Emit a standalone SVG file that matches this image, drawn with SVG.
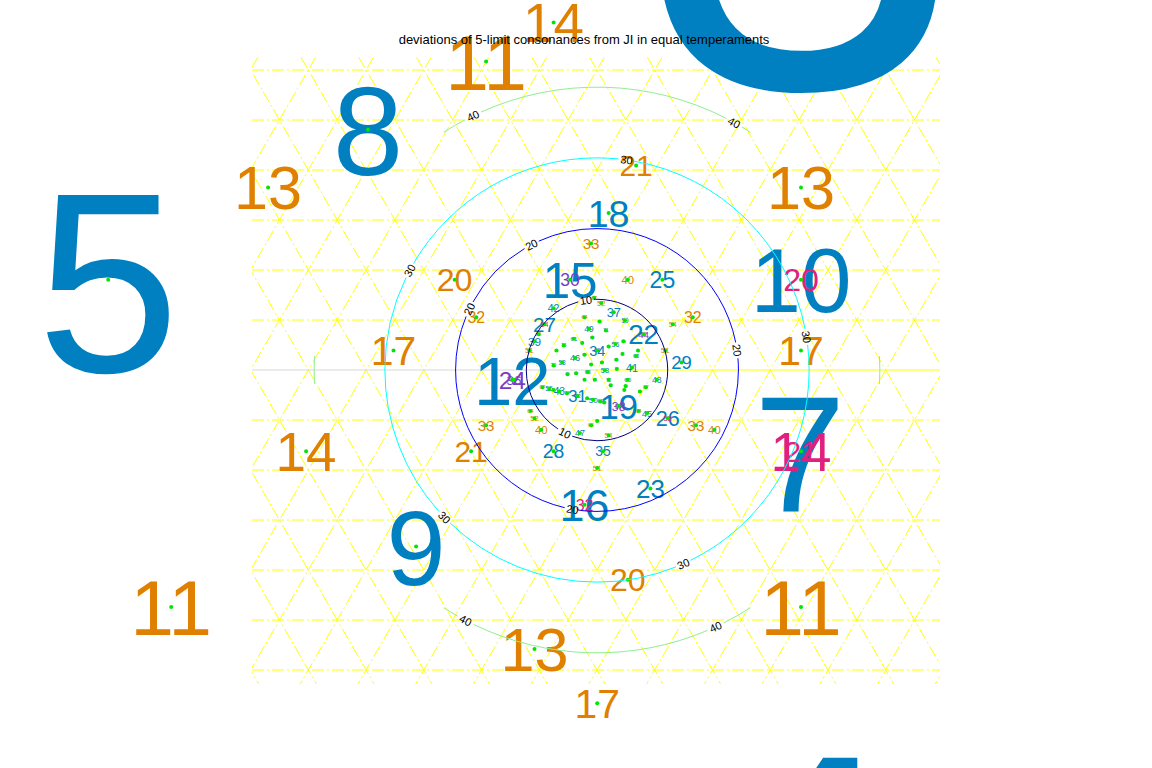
<svg xmlns="http://www.w3.org/2000/svg" width="1152" height="768" viewBox="0 0 1152 768">
<style>
text{font-family:"Liberation Sans",Arial,sans-serif;text-anchor:middle}
.b{fill:#0080c0}.o{fill:#e08000}.p{fill:#7a3cc4}.k{fill:#e0207f}
.g{fill:#00e600}
.gl{stroke:#ffff00;stroke-width:1;stroke-dasharray:12 3 2 3;fill:none}
.ct{fill:none;stroke-width:1}
.cl{font-size:11px;fill:#000;dominant-baseline:central}
</style>
<defs><clipPath id="pc"><rect x="252" y="56" width="688" height="628"/></clipPath></defs>
<rect width="1152" height="768" fill="#fff"/>
<g id="grid" clip-path="url(#pc)">
<path class="gl" d="M252 70H940M252 120H940M252 170H940M252 220H940M252 270H940M252 320H940M252 420H940M252 470H940M252 520H940M252 570H940M252 620H940M252 670H940"/>
<path class="gl" d="M267.9 40L-113.1 700M325.6 40L-55.4 700M383.4 40L2.4 700M441.1 40L60.1 700M498.8 40L117.8 700M556.6 40L175.6 700M614.3 40L233.3 700M672 40L291 700M729.8 40L348.8 700M787.5 40L406.5 700M845.2 40L464.2 700M903 40L522 700M960.7 40L579.7 700M1018.4 40L637.4 700M1076.2 40L695.2 700M1133.9 40L752.9 700M1191.6 40L810.6 700M1249.4 40L868.4 700M1307.1 40L926.1 700"/>
<path class="gl" d="M-113.1 40L267.9 700M-55.4 40L325.6 700M2.4 40L383.4 700M60.1 40L441.1 700M117.8 40L498.8 700M175.6 40L556.6 700M233.3 40L614.3 700M291 40L672 700M348.8 40L729.8 700M406.5 40L787.5 700M464.2 40L845.2 700M522 40L903 700M579.7 40L960.7 700M637.4 40L1018.4 700M695.2 40L1076.2 700M752.9 40L1133.9 700M810.6 40L1191.6 700M868.4 40L1249.4 700M926.1 40L1307.1 700"/>
<path d="M252 370H597" stroke="#d8d8d8" stroke-width="1"/>
<path d="M597 370H940" stroke="#ffff00" stroke-width="1"/>
</g>
<g id="labels">
<text id="n3" class="b" x="801" y="87.4" font-size="580">3</text>
<text id="n4" class="b" x="801" y="1012.3" font-size="370">4</text>
<text id="n5" class="b" x="108.2" y="371.7" font-size="256.7">5</text>
<text id="n7" class="b" x="800" y="510.5" font-size="165">7</text>
<text id="n8" class="b" x="368" y="175.2" font-size="126.8">8</text>
<text id="n9" class="b" x="416.1" y="584.5" font-size="106.3">9</text>
<text id="n10" class="b" x="801" y="312.3" font-size="90.8">10</text>
<text id="n11a" class="o" x="801" y="635.2" font-size="78.7">11</text>
<text id="n11b" class="o" x="171.2" y="635.2" font-size="78.7">11</text>
<text id="n11c" class="o" x="486.1" y="89.8" font-size="78.7">11</text>
<text id="n12" class="b" x="512.3" y="404.5" font-size="69">12</text>
<text id="n13a" class="o" x="801" y="209.4" font-size="61.2">13</text>
<text id="n13b" class="o" x="534.5" y="670.9" font-size="61.2">13</text>
<text id="n13c" class="o" x="268.1" y="209.4" font-size="61.2">13</text>
<text id="n14a" class="k" x="801" y="470.8" font-size="54.8">14</text>
<text id="n14b" class="o" x="306.1" y="470.8" font-size="54.8">14</text>
<text id="n14c" class="o" x="553.6" y="42.2" font-size="54.8">14</text>
<text id="n15" class="b" x="570.1" y="297.5" font-size="49.4">15</text>
<text id="n16" class="b" x="584.5" y="520.8" font-size="44.8">16</text>
<text id="n17a" class="o" x="801" y="365" font-size="40.9">17</text>
<text id="n17b" class="o" x="393.5" y="365" font-size="40.9">17</text>
<text id="n17c" class="o" x="597.2" y="717.9" font-size="40.9">17</text>
<text id="n18" class="b" x="608.6" y="226.6" font-size="37.6">18</text>
<text id="n19" class="b" x="618.7" y="418.5" font-size="34.7">19</text>
<text id="n20a" class="o" x="627.8" y="591.3" font-size="32.1">20</text>
<text id="n20b" class="k" x="801" y="291.3" font-size="32.1">20</text>
<text id="n20c" class="o" x="454.6" y="291.3" font-size="32.1">20</text>
<text id="n21a" class="k" x="801" y="461.9" font-size="29.8">21</text>
<text id="n21b" class="o" x="471.1" y="461.9" font-size="29.8">21</text>
<text id="n21c" class="o" x="636.1" y="176.2" font-size="29.8">21</text>
<text id="n22" class="b" x="643.6" y="344.3" font-size="27.8">22</text>
<text id="n23" class="b" x="650.4" y="497.8" font-size="26">23</text>
<text id="n24" class="p" x="512.3" y="388.5" font-size="24.4">24</text>
<text id="n25" class="b" x="662.4" y="288" font-size="23">25</text>
<text id="n26" class="b" x="667.8" y="425.9" font-size="21.6">26</text>
<text id="n27" class="b" x="544.4" y="331.5" font-size="20.5">27</text>
<text id="n28" class="b" x="553.6" y="458.1" font-size="19.4">28</text>
<text id="n29" class="b" x="681.6" y="369.1" font-size="18.4">29</text>
<text id="n30" class="p" x="570.1" y="286.1" font-size="17.5">30</text>
<text id="n31" class="b" x="577.5" y="401.8" font-size="16.6">31</text>
<text id="n32a" class="o" x="692.8" y="323" font-size="15.9">32</text>
<text id="n32b" class="k" x="584.5" y="510.5" font-size="15.9">32</text>
<text id="n32c" class="o" x="476.3" y="323" font-size="15.9">32</text>
<text id="n33a" class="o" x="696" y="430.6" font-size="15.1">33</text>
<text id="n33b" class="o" x="486.1" y="430.6" font-size="15.1">33</text>
<text id="n33c" class="o" x="591.1" y="248.8" font-size="15.1">33</text>
<text id="n34" class="b" x="597.2" y="355.6" font-size="14.5">34</text>
<text id="n35" class="b" x="603.1" y="456.2" font-size="13.9">35</text>
<text id="n36" class="p" x="514" y="384.6" font-size="13.3">36</text>
<text id="n37" class="b" x="613.8" y="316.8" font-size="12.8">37</text>
<text id="n38" class="p" x="618.7" y="410.5" font-size="12.3">38</text>
<text id="n39" class="b" x="534.5" y="345.5" font-size="11.8">39</text>
<text id="n40a" class="o" x="714.4" y="433.8" font-size="11.3">40</text>
<text id="n40b" class="o" x="541.2" y="433.8" font-size="11.3">40</text>
<text id="n40c" class="o" x="627.8" y="283.8" font-size="11.3">40</text>
<text id="n41" class="b" x="632" y="371.5" font-size="10.9">41</text>
<text id="n42" class="b" x="553.6" y="312.1" font-size="10.5">42</text>
<text id="n43" class="b" x="559.3" y="395.1" font-size="10.2">43</text>
<text id="n44" class="p" x="643.6" y="337.8" font-size="9.8">44</text>
<text id="n45" class="b" x="647.1" y="416.5" font-size="9.5">45</text>
<text id="n46" class="b" x="575.1" y="361.3" font-size="9.2">46</text>
<text id="n47" class="b" x="579.9" y="436.2" font-size="8.9">47</text>
<text id="n48" class="b" x="656.7" y="382.9" font-size="8.6">48</text>
<text id="n49" class="b" x="588.9" y="331.8" font-size="8.4">49</text>
<text id="n50" class="b" x="593.2" y="402.7" font-size="8.1">50</text>
<text id="n51a" class="o" x="665.2" y="353.2" font-size="7.9">51</text>
<text id="n51b" class="o" x="597.2" y="470.8" font-size="7.9">51</text>
<text id="n51c" class="o" x="529.3" y="353.2" font-size="7.9">51</text>
<text id="n52a" class="k" x="667.8" y="420.9" font-size="7.65">52</text>
<text id="n52b" class="o" x="534.5" y="420.9" font-size="7.65">52</text>
<text id="n52c" class="o" x="601.2" y="305.6" font-size="7.65">52</text>
<text id="n53" class="b" x="604.9" y="372.9" font-size="7.4">53</text>
<text id="n54a" class="o" x="608.6" y="437.9" font-size="7.2">54</text>
<text id="n54b" class="o" x="672.7" y="326.8" font-size="7.2">54</text>
<text id="n54c" class="k" x="544.4" y="326.8" font-size="7.2">54</text>
<text id="n55" class="b" x="549.1" y="391.4" font-size="7">55</text>
<text id="n56" class="b" x="615.4" y="346.6" font-size="6.85">56</text>
<text id="n57" class="p" x="618.7" y="408.5" font-size="6.7">57</text>
<text id="n58" class="b" x="562.1" y="364.8" font-size="6.5">58</text>
<text id="n59" class="b" x="624.9" y="322.7" font-size="6.3">59</text>
<text id="n60" class="b" x="627.8" y="382" font-size="6.2">60</text>
<text id="n61" class="b" x="573.9" y="341" font-size="6">61</text>
<text id="n62" class="p" x="577.5" y="398" font-size="5.9">62</text>
<text id="n63" class="b" x="636.1" y="358" font-size="5.7">63</text>
<text id="n64a" class="o" x="638.6" y="413" font-size="5.6">64</text>
<text id="n64b" class="o" x="530.4" y="413" font-size="5.6">64</text>
<text id="n64c" class="o" x="584.5" y="319.3" font-size="5.6">64</text>
<text id="n65" class="b" x="587.8" y="374.1" font-size="5.5">65</text>
<text id="n66a" class="o" x="591.1" y="427.1" font-size="5.35">66</text>
<text id="n66b" class="k" x="643.6" y="336.2" font-size="5.35">66</text>
<text id="n66c" class="o" x="538.6" y="336.2" font-size="5.35">66</text>
<text id="n67a" class="o" x="645.9" y="389.1" font-size="5.2">67</text>
<text id="n67b" class="o" x="542.5" y="389.1" font-size="5.2">67</text>
<text id="n67c" class="o" x="594.2" y="299.6" font-size="5.2">67</text>
<text id="n68" class="p" x="597.2" y="352.2" font-size="5.1">68</text>
<text id="n69" class="b" x="600.2" y="403.3" font-size="5">69</text>
<text id="n70" class="b" x="553.6" y="367.3" font-size="4.9">70</text>
<text id="n71" class="b" x="605.9" y="332.2" font-size="4.8">71</text>
<text id="n72" class="b" x="608.6" y="381.5" font-size="4.7">72</text>
<text id="n73" class="b" x="563.7" y="347.1" font-size="4.6">73</text>
<text id="n74" class="b" x="567" y="394.9" font-size="4.5">74</text>
<text id="n75" class="b" x="616.3" y="361.4" font-size="4.4">75</text>
<text id="n76" class="p" x="618.7" y="407.6" font-size="4.3">76</text>
<text id="n77" class="b" x="576.1" y="374.8" font-size="4.25">77</text>
<text id="n78" class="b" x="623.4" y="342.8" font-size="4.2">78</text>
<text id="n79" class="b" x="625.6" y="387.6" font-size="4.1">79</text>
<text id="n80" class="b" x="584.5" y="356.2" font-size="4">80</text>
<text id="n81" class="b" x="587.2" y="399.7" font-size="3.9">81</text>
<text id="n82" class="p" x="632" y="369" font-size="3.9">82</text>
<text id="n83" class="b" x="592.3" y="339" font-size="3.8">83</text>
<text id="n84" class="b" x="594.8" y="381.1" font-size="3.7">84</text>
<text id="n85a" class="o" x="597.2" y="422.3" font-size="3.66">85</text>
<text id="n85b" class="o" x="638" y="351.7" font-size="3.66">85</text>
<text id="n85c" class="o" x="556.5" y="351.7" font-size="3.66">85</text>
<text id="n86a" class="o" x="639.9" y="392.7" font-size="3.6">86</text>
<text id="n86b" class="k" x="559.3" y="392.7" font-size="3.6">86</text>
<text id="n86c" class="o" x="599.6" y="322.9" font-size="3.6">86</text>
<text id="n87" class="b" x="601.9" y="363.8" font-size="3.5">87</text>
<text id="n88" class="b" x="604.2" y="403.8" font-size="3.5">88</text>
<text id="n89" class="b" x="567.5" y="375.4" font-size="3.4">89</text>
<text id="n90" class="b" x="608.6" y="347.6" font-size="3.4">90</text>
<text id="n91" class="b" x="610.7" y="386.5" font-size="3.3">91</text>
<text id="n92" class="p" x="575.1" y="359.2" font-size="3.25">92</text>
<text id="n93" class="p" x="577.5" y="397" font-size="3.2">93</text>
<text id="n94" class="b" x="616.8" y="370.2" font-size="3.15">94</text>
<text id="n95" class="b" x="582.2" y="344" font-size="3.1">95</text>
<text id="n96" class="b" x="584.5" y="380.9" font-size="3.05">96</text>
<text id="n97" class="b" x="622.5" y="355.1" font-size="3">97</text>
<text id="n98a" class="o" x="624.3" y="391.1" font-size="2.96">98</text>
<text id="n98b" class="o" x="553.6" y="391.1" font-size="2.96">98</text>
<text id="n98c" class="k" x="589" y="329.9" font-size="2.96">98</text>
<text id="n99" class="b" x="591.1" y="365.6" font-size="2.9">99</text>
<text id="n100" class="p" x="593.2" y="400.8" font-size="2.9">100</text>
</g>
<g id="points" class="g">
<circle cx="108.2" cy="279.8" r="2"/><circle cx="801" cy="451.2" r="2"/><circle cx="368" cy="129.8" r="2"/><circle cx="416.1" cy="546.4" r="2"/><circle cx="801" cy="279.8" r="2"/>
<circle cx="801" cy="607" r="2"/><circle cx="171.2" cy="607" r="2"/><circle cx="486.1" cy="61.6" r="2"/><circle cx="512.3" cy="379.8" r="2"/>
<circle cx="801" cy="187.5" r="2"/><circle cx="534.5" cy="649" r="2"/><circle cx="268.1" cy="187.5" r="2"/>
<circle cx="306.1" cy="451.2" r="2"/><circle cx="553.6" cy="22.6" r="2"/><circle cx="570.1" cy="279.8" r="2"/><circle cx="584.5" cy="504.8" r="2"/>
<circle cx="801" cy="350.4" r="2"/><circle cx="393.5" cy="350.4" r="2"/><circle cx="597.2" cy="703.3" r="2"/><circle cx="608.6" cy="213.1" r="2"/><circle cx="618.7" cy="406.1" r="2"/>
<circle cx="627.8" cy="579.8" r="2"/><circle cx="454.6" cy="279.8" r="2"/><circle cx="471.1" cy="451.2" r="2"/><circle cx="636.1" cy="165.5" r="2"/>
<circle cx="643.6" cy="334.3" r="2"/><circle cx="650.4" cy="488.5" r="2"/><circle cx="662.4" cy="279.8" r="2"/><circle cx="667.8" cy="418.2" r="2"/><circle cx="544.4" cy="324.2" r="2"/><circle cx="553.6" cy="451.2" r="2"/><circle cx="681.6" cy="362.5" r="2"/>
<circle cx="577.5" cy="395.9" r="2"/><circle cx="692.8" cy="317.3" r="2"/><circle cx="476.3" cy="317.3" r="2"/><circle cx="696" cy="425.2" r="2"/><circle cx="486.1" cy="425.2" r="2"/><circle cx="591.1" cy="243.4" r="2"/>
<circle cx="597.2" cy="350.4" r="2"/><circle cx="603.1" cy="451.2" r="2"/><circle cx="514" cy="379.8" r="2"/><circle cx="613.8" cy="312.2" r="2"/><circle cx="534.5" cy="341.3" r="2"/>
<circle cx="714.4" cy="429.8" r="2"/><circle cx="541.2" cy="429.8" r="2"/><circle cx="627.8" cy="279.8" r="2"/><circle cx="632" cy="367.6" r="2"/><circle cx="553.6" cy="308.3" r="2"/><circle cx="559.3" cy="391.4" r="2"/>
<circle cx="647.1" cy="413.1" r="2"/><circle cx="575.1" cy="358" r="2"/><circle cx="579.9" cy="433" r="2"/><circle cx="656.7" cy="379.8" r="2"/><circle cx="588.9" cy="328.8" r="2"/><circle cx="593.2" cy="399.8" r="2"/>
<circle cx="665.2" cy="350.4" r="2"/><circle cx="597.2" cy="468" r="2"/><circle cx="529.3" cy="350.4" r="2"/><circle cx="534.5" cy="418.2" r="2"/><circle cx="601.2" cy="302.9" r="2"/><circle cx="604.9" cy="370.3" r="2"/>
<circle cx="608.6" cy="435.3" r="2"/><circle cx="672.7" cy="324.2" r="2"/><circle cx="549.1" cy="388.9" r="2"/><circle cx="615.4" cy="344.1" r="2"/><circle cx="562.1" cy="362.5" r="2"/><circle cx="624.9" cy="320.4" r="2"/><circle cx="627.8" cy="379.8" r="2"/>
<circle cx="573.9" cy="338.8" r="2"/><circle cx="636.1" cy="356" r="2"/><circle cx="638.6" cy="411" r="2"/><circle cx="530.4" cy="411" r="2"/><circle cx="584.5" cy="317.3" r="2"/><circle cx="587.8" cy="372.1" r="2"/>
<circle cx="591.1" cy="425.2" r="2"/><circle cx="538.6" cy="334.3" r="2"/><circle cx="645.9" cy="387.2" r="2"/><circle cx="542.5" cy="387.2" r="2"/><circle cx="594.2" cy="297.7" r="2"/>
<circle cx="600.2" cy="401.5" r="2"/><circle cx="553.6" cy="365.5" r="2"/><circle cx="605.9" cy="330.5" r="2"/><circle cx="608.6" cy="379.8" r="2"/><circle cx="563.7" cy="345.5" r="2"/><circle cx="567" cy="393.3" r="2"/><circle cx="616.3" cy="359.8" r="2"/>
<circle cx="576.1" cy="373.3" r="2"/><circle cx="623.4" cy="341.3" r="2"/><circle cx="625.6" cy="386.1" r="2"/><circle cx="584.5" cy="354.8" r="2"/><circle cx="587.2" cy="398.3" r="2"/><circle cx="592.3" cy="337.6" r="2"/><circle cx="594.8" cy="379.8" r="2"/>
<circle cx="597.2" cy="421" r="2"/><circle cx="638" cy="350.4" r="2"/><circle cx="556.5" cy="350.4" r="2"/><circle cx="639.9" cy="391.4" r="2"/><circle cx="559.3" cy="391.4" r="2"/><circle cx="599.6" cy="321.6" r="2"/>
<circle cx="601.9" cy="362.5" r="2"/><circle cx="604.2" cy="402.5" r="2"/><circle cx="567.5" cy="374.2" r="2"/><circle cx="608.6" cy="346.4" r="2"/><circle cx="610.7" cy="385.3" r="2"/><circle cx="616.8" cy="369.1" r="2"/>
<circle cx="582.2" cy="342.9" r="2"/><circle cx="584.5" cy="379.8" r="2"/><circle cx="622.5" cy="354" r="2"/><circle cx="624.3" cy="390" r="2"/><circle cx="553.6" cy="390" r="2"/><circle cx="589" cy="328.8" r="2"/><circle cx="591.1" cy="364.6" r="2"/>
</g>
<g id="connectors">
<circle class="ct" cx="597" cy="370" r="70.71" stroke="#000080" pathLength="360" stroke-dasharray="110.5 13 131 13 92.5 0"/>
<circle class="ct" cx="597" cy="370" r="141.42" stroke="#0000ff" pathLength="360" stroke-dasharray="96.76 6.48 99.02 6.48 30.42 6.48 103.12 6.48 4.76 0"/>
<circle class="ct" cx="597" cy="370" r="212.13" stroke="#00ffff" pathLength="360" stroke-dasharray="63.84 4.32 65.68 4.32 67.68 4.32 65.68 4.32 68.68 4.32 6.84 0"/>
<path class="ct" stroke="#90ee90" d="M750.4 132.3A282.84 282.84 0 0 0 742 127.1M726.3 118.4A282.84 282.84 0 0 0 481.1 112M465.1 119.8A282.84 282.84 0 0 0 443.8 132.2M314.5 356.2A282.84 282.84 0 0 0 314.5 383.8M443.8 607.8A282.84 282.84 0 0 0 457.7 616.2M473.5 624.4A282.84 282.84 0 0 0 707.5 630.4M723.7 622.9A282.84 282.84 0 0 0 750.4 607.7M879.5 383.8A282.84 282.84 0 0 0 879.5 356.2"/>
</g>
<g id="contour-labels">
<text class="cl" transform="translate(585.9 300.2) rotate(-9)">10</text>
<text class="cl" transform="translate(564.9 433) rotate(27)">10</text>
<text class="cl" transform="translate(531.5 244.7) rotate(-27.6)">20</text>
<text class="cl" transform="translate(469.4 309.1) rotate(-64.5)">20</text>
<text class="cl" transform="translate(737 350.3) rotate(82)">20</text>
<text class="cl" transform="translate(572.4 509.3) rotate(10)">20</text>
<text class="cl" transform="translate(626.5 159.9) rotate(8)">30</text>
<text class="cl" transform="translate(409.7 270.4) rotate(-62)">30</text>
<text class="cl" transform="translate(444.4 517.4) rotate(46)">30</text>
<text class="cl" transform="translate(683.3 563.8) rotate(-24)">30</text>
<text class="cl" transform="translate(806.5 336.8) rotate(81)">30</text>
<text class="cl" transform="translate(473 115.8) rotate(-26)">40</text>
<text class="cl" transform="translate(734.1 122.6) rotate(29)">40</text>
<text class="cl" transform="translate(465.5 620.4) rotate(27.7)">40</text>
<text class="cl" transform="translate(715.6 626.8) rotate(-24.8)">40</text>
</g>
<text id="title" x="584" y="44" font-size="13" fill="#000">deviations of 5-limit consonances from JI in equal temperaments</text>
</svg>
